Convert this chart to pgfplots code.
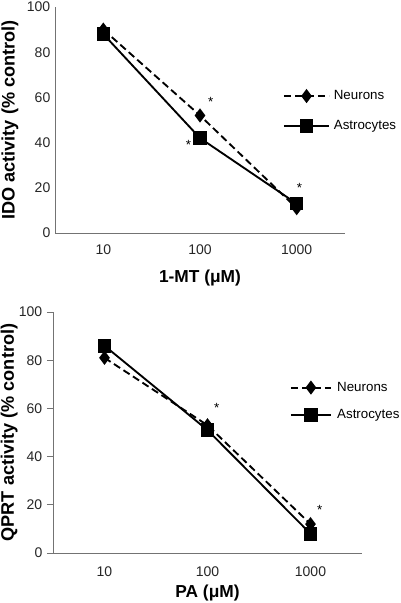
\documentclass[border=0pt]{standalone}
\usepackage{pgfplots}
\pgfplotsset{compat=1.18}
\usepackage{fontspec}
\setmainfont{Liberation Sans}
\tikzset{starnode/.style={font=\fontsize{10}{11}\selectfont}}
\begin{document}
\begin{tikzpicture}
\useasboundingbox (0pt,0pt) rectangle (300pt,-452.25pt);
\pgfplotsset{
 common/.style={
  scale only axis, anchor=south west,
  axis x line*=bottom, axis y line*=left,
  axis line style={-, black!55, line width=0.7pt},
  xmin=-0.5, xmax=2.5, ymin=0, ymax=100, ytick={0,20,...,100},
  xtick={0,1,2}, xticklabels={10,100,1000},
  tick label style={font=\fontsize{10.5}{12}\selectfont, text=black!85},
  xlabel style={font=\bfseries\fontsize{13}{15}\selectfont},
  ylabel style={font=\bfseries\fontsize{13.6}{15}\selectfont},
  /pgf/number format/assume math mode=true,
  legend cell align=left,
  legend style={draw=none, fill=none, font=\fontsize{10}{12}\selectfont, anchor=west,
    inner sep=0pt, outer sep=0pt},
 },
 neur/.style={black, dash pattern=on 5.5pt off 3pt, line width=1.4pt, mark=diamond*, mark size=4.2pt, mark options={solid}},
 astr/.style={black, solid, line width=1.4pt, mark=square*, mark size=4.4pt},
}
% top
\begin{axis}[common, at={(41.25pt,-174.75pt)}, width=217.5pt, height=169.5pt,
  major tick length=0pt,
  xticklabel style={yshift=-5pt},
  xlabel={1-MT (μM)}, ylabel={IDO activity (\% control)},
  xlabel style={at={(axis description cs:0.5,-0.199)}, anchor=center},
  ylabel style={at={(axis description cs:-0.155,0.5)}, anchor=center},
  legend image code/.code={\draw[mark repeat=2,mark phase=2] plot coordinates {(0pt,0pt) (17pt,0pt) (34pt,0pt)};},
  legend style={at={(0.786,0.54)}, row sep=10pt, column sep=0.8pt}]
\addplot[neur] coordinates {(0,90) (1,52) (2,11)};
\addlegendentry{Neurons}
\addplot[astr] coordinates {(0,88) (1,42) (2,13)};
\addlegendentry{Astrocytes}
\node[starnode] at (axis cs:1.11,58) {*};
\node[starnode] at (axis cs:0.88,39) {*};
\node[starnode] at (axis cs:2.03,20) {*};
\end{axis}
% bottom
\begin{axis}[common, at={(39.75pt,-414.75pt)}, width=231.75pt, height=180.75pt,
  tick align=outside, major tick length=4.5pt,
  ytick style={draw=black!55, line width=0.7pt},
  xtick style={draw=none},
  xticklabel style={yshift=-2pt},
  minor xtick={-0.5,0.5,1.5,2.5}, minor tick length=4.5pt,
  minor tick style={draw=black!55, line width=0.7pt},
  xlabel={PA (μM)}, ylabel={QPRT activity (\% control)},
  xlabel style={at={(axis description cs:0.5,-0.166)}, anchor=center},
  ylabel style={at={(axis description cs:-0.142,0.5)}, anchor=center},
  legend image code/.code={\draw[mark repeat=2,mark phase=2] plot coordinates {(0pt,0pt) (15pt,0pt) (30pt,0pt)};},
  legend style={at={(0.767,0.63)}, row sep=8pt, column sep=2pt}]
\addplot[neur] coordinates {(0,81) (1,53) (2,12)};
\addlegendentry{Neurons}
\addplot[astr] coordinates {(0,86) (1,51) (2,8)};
\addlegendentry{Astrocytes}
\node[starnode] at (axis cs:1.09,60) {*};
\node[starnode] at (axis cs:2.09,18) {*};
\end{axis}
\end{tikzpicture}
\end{document}
